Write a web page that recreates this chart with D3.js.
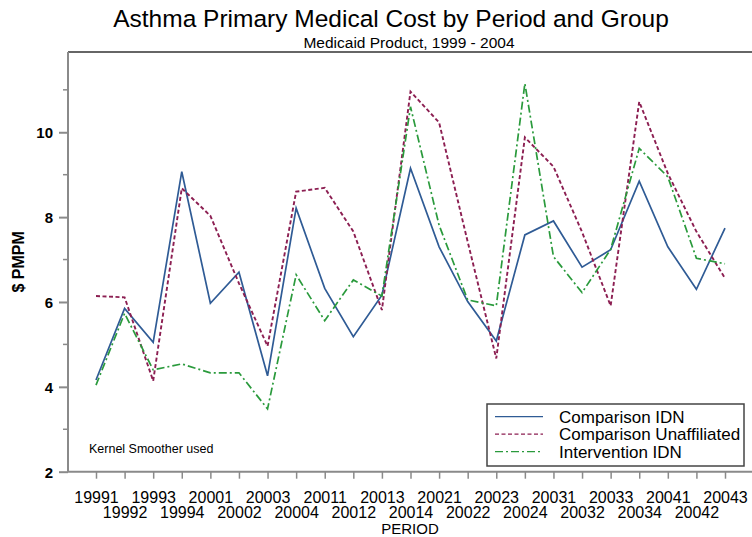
<!DOCTYPE html>
<html>
<head>
<meta charset="utf-8">
<script src="https://cdn.jsdelivr.net/npm/d3@7/dist/d3.min.js"></script>
<style>
  html, body { margin: 0; padding: 0; background: #fff; }
  svg { display: block; }
  text { font-family: "Liberation Sans", Arial, Helvetica, sans-serif; fill: #000; }
</style>
</head>
<body>
<svg id="chart" width="752" height="537"></svg>
<script>
// Quarterly periods, 1999 Q1 through 2004 Q3
const periods = ["19991","19992","19993","19994","20001","20002","20003","20004",
  "20011","20012","20013","20014","20021","20022","20023","20024",
  "20031","20032","20033","20034","20041","20042","20043"];

// $ PMPM by group
const comparisonIDN = [4.16,5.85,5.05,9.07,5.97,6.70,4.26,8.21,6.32,5.18,6.16,9.15,
  7.30,6.01,5.08,7.58,7.91,6.82,7.23,8.85,7.30,6.30,7.74];
const comparisonUnaffiliated = [6.14,6.11,4.14,8.68,8.03,6.44,4.96,8.60,8.69,7.66,5.81,10.96,
  10.23,7.42,4.67,9.88,9.19,7.65,5.91,10.72,9.03,7.66,6.56];
const interventionIDN = [4.04,5.73,4.40,4.54,4.33,4.33,3.48,6.64,5.56,6.52,6.14,10.60,
  7.81,6.05,5.91,11.15,7.07,6.22,7.24,9.62,8.95,7.03,6.90];

const seriesNames = ["Comparison IDN", "Comparison Unaffiliated", "Intervention IDN"];
const yTickValues = [2, 4, 6, 8, 10];
const yMinorValues = [3, 5, 7, 9, 11];

const series = [
  { name: seriesNames[0], values: comparisonIDN, color: "#2f5b95", dash: null, width: 1.7 },
  { name: seriesNames[1], values: comparisonUnaffiliated, color: "#8c1f52", dash: "4,2.5", width: 1.9 },
  { name: seriesNames[2], values: interventionIDN, color: "#2a9a3c", dash: "8,3,2,3", width: 1.7 }
];

const svg = d3.select("#chart");
const frame = { left: 68, top: 52, right: 752, bottom: 471.7 };

const x = d3.scalePoint().domain(periods).range([96, 725]);
const y = d3.scaleLinear().domain([2, 2 + (frame.bottom - frame.top) / 42.43])
  .range([frame.bottom, frame.top]);

// Titles
svg.append("text").attr("x", 391).attr("y", 27).attr("text-anchor", "middle")
  .style("font-size", "24.5px").text("Asthma Primary Medical Cost by Period and Group");
svg.append("text").attr("x", 409).attr("y", 47.5).attr("text-anchor", "middle")
  .style("font-size", "15.5px").text("Medicaid Product, 1999 - 2004");

const axisColor = "#8a8a8a";

// Top border of the plot area
svg.append("line").attr("x1", frame.left).attr("x2", frame.right)
  .attr("y1", frame.top).attr("y2", frame.top)
  .attr("stroke", "#666").attr("stroke-width", 2);

// Y axis
const yAxis = svg.append("g").attr("transform", `translate(${frame.left},0)`)
  .call(d3.axisLeft(y).tickValues(yTickValues).tickSize(9).tickPadding(6).tickFormat(d3.format("d")));
yAxis.select(".domain").attr("stroke", axisColor).attr("stroke-width", 2)
  .attr("d", `M0,${frame.top}V${frame.bottom}`);
yAxis.selectAll(".tick line").attr("stroke", axisColor).attr("stroke-width", 2);
yAxis.selectAll(".tick text").style("font-size", "15px").style("font-weight", "bold")
  .attr("fill", "#111").attr("dy", "0.36em");
yAxis.selectAll(".minor").data(yMinorValues).enter().append("line")
  .attr("class", "minor").attr("x1", -5).attr("x2", 0)
  .attr("y1", d => y(d)).attr("y2", d => y(d))
  .attr("stroke", axisColor).attr("stroke-width", 1.5);

// X axis, labels staggered over two rows
const xAxis = svg.append("g").attr("transform", `translate(0,${frame.bottom})`)
  .call(d3.axisBottom(x).tickSize(7).tickSizeOuter(0));
xAxis.select(".domain").attr("stroke", axisColor).attr("stroke-width", 2)
  .attr("d", `M${frame.left},0H${frame.right}`);
xAxis.selectAll(".tick line").attr("stroke", axisColor).attr("stroke-width", 1.5);
xAxis.selectAll(".tick text")
  .style("font-size", "16px")
  .attr("y", (d, i) => i % 2 === 0 ? 31 : 46)
  .attr("dy", 0)
  .attr("fill", "#000");

// Axis titles
svg.append("text").attr("x", 410).attr("y", 534).attr("text-anchor", "middle")
  .style("font-size", "15px").text("PERIOD");
svg.append("text").attr("transform", `translate(24,${(frame.top + frame.bottom) / 2}) rotate(-90)`)
  .attr("text-anchor", "middle").style("font-size", "16px").style("font-weight", "bold")
  .text("$ PMPM");

// Series lines
const line = d3.line().x((d, i) => x(periods[i])).y(d => y(d));
svg.append("g").selectAll("path").data(series).enter().append("path")
  .attr("d", d => line(d.values))
  .attr("fill", "none")
  .attr("stroke", d => d.color)
  .attr("stroke-width", d => d.width)
  .attr("stroke-dasharray", d => d.dash)
  .attr("stroke-linejoin", "miter");

// Footnote
svg.append("text").attr("x", 89).attr("y", 452.5).style("font-size", "12.5px")
  .text("Kernel Smoother used");

// Legend
const lg = svg.append("g");
lg.append("rect").attr("x", 487).attr("y", 404).attr("width", 257).attr("height", 62)
  .attr("fill", "#fff").attr("stroke", "#444").attr("stroke-width", 1.5);
const rows = lg.selectAll(".row").data(series).enter().append("g")
  .attr("transform", (d, i) => `translate(0,${416.7 + i * 17.5})`);
rows.append("line").attr("x1", 495).attr("x2", 543).attr("y1", 0).attr("y2", 0)
  .attr("stroke", d => d.color).attr("stroke-width", 1.3)
  .attr("stroke-dasharray", d => d.dash);
rows.append("text").attr("x", 559).attr("y", 6).style("font-size", "17px")
  .text(d => d.name);
</script>
</body>
</html>
